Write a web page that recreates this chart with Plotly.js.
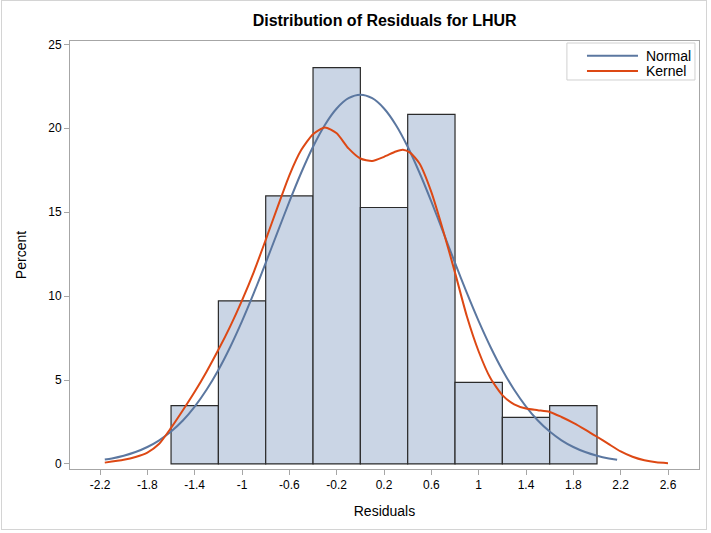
<!DOCTYPE html>
<html>
<head>
<meta charset="utf-8">
<script src="https://cdn.plot.ly/plotly-3.0.1.min.js"></script>
<style>
  html, body { margin: 0; padding: 0; background: #fff; }
  #wrap { position: relative; width: 711px; height: 533px; }
  #chart { width: 711px; height: 533px; }
  #border { position: absolute; left: 1px; top: 0px; width: 706px; height: 530px; border: 1px solid #d4d4d4; pointer-events: none; box-sizing: border-box; }
</style>
</head>
<body>
<div id="wrap"><div id="chart"></div><div id="border"></div></div>
<script>
// Histogram bins (midpoints) and percents
const binMid = [-1.4, -1.0, -0.6, -0.2, 0.2, 0.6, 1.0, 1.4, 1.8];
const binPct = [3.47, 9.72, 15.97, 23.61, 15.28, 20.83, 4.86, 2.78, 3.47];
const binWidth = 0.4;

// Normal density curve (percent scale)
const normX = [-2.16, -2.1, -2.0, -1.9, -1.8, -1.7, -1.6, -1.5, -1.4, -1.3, -1.2, -1.1, -1.0, -0.9, -0.8, -0.7, -0.6, -0.5, -0.4, -0.3, -0.2, -0.1, 0.0,
               0.1, 0.2, 0.3, 0.4, 0.5, 0.6, 0.7, 0.8, 0.9, 1.0, 1.1, 1.2, 1.3, 1.4, 1.5, 1.6, 1.7, 1.8, 1.9, 2.0, 2.1, 2.17];
const normY = [0.26, 0.33, 0.49, 0.71, 1.01, 1.41, 1.93, 2.59, 3.42, 4.42, 5.60, 6.97, 8.51, 10.19, 11.98, 13.81, 15.63, 17.35, 18.90, 20.20, 21.18, 21.79, 22.0,
               21.79, 21.18, 20.20, 18.90, 17.35, 15.63, 13.81, 11.98, 10.19, 8.51, 6.97, 5.60, 4.42, 3.42, 2.59, 1.93, 1.41, 1.01, 0.71, 0.49, 0.33, 0.25];

// Kernel density curve (percent scale)
const kernX = [-2.16, -2.0, -1.9, -1.8, -1.7, -1.6, -1.5, -1.4, -1.3, -1.2, -1.1, -1.0, -0.9, -0.8, -0.7, -0.6, -0.5, -0.4, -0.3, -0.2, -0.1, 0.0,
               0.1, 0.2, 0.3, 0.36, 0.42, 0.5, 0.6, 0.7, 0.8, 0.9, 1.0, 1.1, 1.2, 1.3, 1.4, 1.5, 1.6, 1.7, 1.8, 1.9, 2.0, 2.1, 2.2, 2.3, 2.4, 2.5, 2.6];
const kernY = [0.08, 0.25, 0.42, 0.68, 1.2, 2.15, 3.2, 4.3, 5.5, 6.8, 8.2, 9.75, 11.45, 13.35, 15.3, 17.2, 18.7, 19.65, 20.05, 19.7, 18.8, 18.2,
               18.05, 18.3, 18.62, 18.72, 18.55, 17.9, 16.2, 13.9, 11.4, 8.8, 6.7, 5.1, 4.1, 3.55, 3.3, 3.2, 3.1, 2.8, 2.45, 2.05, 1.62, 1.18, 0.75, 0.43, 0.22, 0.1, 0.05];

const xTickVals = [-2.2, -1.8, -1.4, -1.0, -0.6, -0.2, 0.2, 0.6, 1.0, 1.4, 1.8, 2.2, 2.6];
const xTickText = ["-2.2", "-1.8", "-1.4", "-1", "-0.6", "-0.2", "0.2", "0.6", "1", "1.4", "1.8", "2.2", "2.6"];
const yTickVals = [0, 5, 10, 15, 20, 25];

const seriesNames = ['Normal', 'Kernel'];
const seriesColors = ['#5B77A0', '#DD4814'];

const traces = [
  {
    type: 'bar', x: binMid, y: binPct, width: binWidth,
    marker: { color: '#CAD5E5', line: { color: '#2b2b2b', width: 1.2 } },
    showlegend: false, hoverinfo: 'x+y'
  },
  {
    type: 'scatter', mode: 'lines', name: seriesNames[0], x: normX, y: normY,
    line: { color: seriesColors[0], width: 2, shape: 'spline', smoothing: 0.8 }, showlegend: false
  },
  {
    type: 'scatter', mode: 'lines', name: seriesNames[1], x: kernX, y: kernY,
    line: { color: seriesColors[1], width: 2, shape: 'spline', smoothing: 0.6 }, showlegend: false
  }
];

const axisCommon = {
  showline: true, linecolor: '#A6A6A6', linewidth: 1, mirror: true,
  showgrid: false, zeroline: false,
  ticks: 'outside', ticklen: 5, tickcolor: '#A6A6A6',
  tickfont: { family: 'Liberation Sans, Arial, sans-serif', size: 12, color: '#000' }
};

// Legend drawn inside the plot's top-right corner (paper coordinates)
const legBox = { x0: 0.790, x1: 0.9936, y0: 0.9089, y1: 0.9953 };
const legRowY = [0.9655, 0.9300];
const legLineX = [0.8219, 0.9030];
const legTextX = 0.9125;

const shapes = [
  { type: 'rect', xref: 'paper', yref: 'paper', x0: legBox.x0, x1: legBox.x1, y0: legBox.y0, y1: legBox.y1,
    line: { color: '#D0D0D0', width: 1 }, fillcolor: '#fff', layer: 'above' }
];
const annotations = [];
seriesNames.forEach((n, i) => {
  shapes.push({ type: 'line', xref: 'paper', yref: 'paper', x0: legLineX[0], x1: legLineX[1], y0: legRowY[i], y1: legRowY[i],
    line: { color: seriesColors[i], width: 2 }, layer: 'above' });
  annotations.push({ xref: 'paper', yref: 'paper', x: legTextX, y: legRowY[i], xanchor: 'left', yanchor: 'middle',
    text: n, showarrow: false, font: { size: 14, family: 'Liberation Sans, Arial, sans-serif', color: '#000' } });
});

const layout = {
  width: 711, height: 533,
  margin: { l: 70, r: 12, t: 41, b: 64 },
  paper_bgcolor: '#fff', plot_bgcolor: '#fff',
  font: { family: 'Liberation Sans, Arial, sans-serif', color: '#000' },
  title: {
    text: '<b>Distribution of Residuals for LHUR</b>',
    font: { family: 'Liberation Sans, Arial, sans-serif', size: 16, color: '#000' },
    x: 0.541, xanchor: 'center', y: 0.962, yanchor: 'middle'
  },
  xaxis: Object.assign({}, axisCommon, {
    range: [-2.454, 2.862],
    tickmode: 'array', tickvals: xTickVals, ticktext: xTickText,
    title: { text: 'Residuals', font: { size: 14, family: 'Liberation Sans, Arial, sans-serif' }, standoff: 14 }
  }),
  yaxis: Object.assign({}, axisCommon, {
    range: [-0.3, 25.2],
    tickmode: 'array', tickvals: yTickVals, ticktext: yTickVals.map(String),
    title: { text: 'Percent', font: { size: 14, family: 'Liberation Sans, Arial, sans-serif' }, standoff: 18 }
  }),
  bargap: 0,
  shapes: shapes,
  annotations: annotations,
  showlegend: false
};

Plotly.newPlot('chart', traces, layout, { displayModeBar: false, staticPlot: true });
</script>
</body>
</html>
